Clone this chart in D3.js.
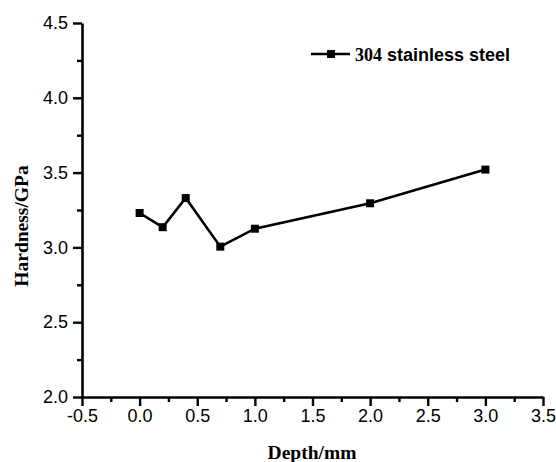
<!DOCTYPE html>
<html lang="en">
<head>
    <meta charset="UTF-8">
    <title>Hardness vs depth</title>
    <script src="https://d3js.org/d3.v7.min.js"></script>
</head>
<body style="margin:0;background:#fff">
<script>
    var depths = [0.0, 0.2, 0.4, 0.7, 1.0, 2.0, 3.0];
    var hardness = [3.23, 3.135, 3.33, 3.005, 3.125, 3.295, 3.52];
    var xTicks = [-0.5, 0.0, 0.5, 1.0, 1.5, 2.0, 2.5, 3.0, 3.5];
    var yTicks = [2.0, 2.5, 3.0, 3.5, 4.0, 4.5];
    var seriesName = "304 stainless steel";

    var margin = {top: 23, right: 13, bottom: 65, left: 82},
        width = 556 - margin.left - margin.right,
        height = 462 - margin.top - margin.bottom;

    var svg = d3.select("body").append("svg")
        .attr("width", 556)
        .attr("height", 462)
        .append("g")
        .attr("transform", "translate(" + margin.left + "," + margin.top + ")");

    var x = d3.scaleLinear().domain([-0.5, 3.5]).range([0, width]);
    var y = d3.scaleLinear().domain([2.0, 4.5]).range([height, 0]);

    var data = depths.map(function (d, i) { return {x: d, y: hardness[i]}; });
    var fmt = function (d) { return d.toFixed(1); };   // plain hyphen for -0.5

    function styleAxis(g) {
        g.select(".domain").attr("stroke-width", 2.6).attr("stroke", "#000");
        g.selectAll("line").attr("stroke-width", 2.4).attr("stroke", "#000");
        g.selectAll("text")
            .style("font-family", "Liberation Sans, Arial, sans-serif")
            .style("font-size", "18px")
            .attr("fill", "#000");
    }

    // minor ticks
    var xMinor = d3.range(-0.25, 3.5, 0.5);
    var yMinor = d3.range(2.25, 4.5, 0.5);
    svg.append("g")
        .attr("transform", "translate(0," + height + ")")
        .call(d3.axisBottom(x).tickValues(xMinor).tickSize(5).tickFormat(""))
        .call(function (g) { g.select(".domain").remove(); g.selectAll("line").attr("stroke-width", 2.4).attr("stroke", "#000"); });
    svg.append("g")
        .call(d3.axisLeft(y).tickValues(yMinor).tickSize(5).tickFormat(""))
        .call(function (g) { g.select(".domain").remove(); g.selectAll("line").attr("stroke-width", 2.4).attr("stroke", "#000"); });

    // x axis
    svg.append("g")
        .attr("transform", "translate(0," + height + ")")
        .call(d3.axisBottom(x).tickValues(xTicks).tickSize(9).tickSizeOuter(0).tickPadding(3).tickFormat(fmt))
        .call(styleAxis);

    // y axis
    svg.append("g")
        .call(d3.axisLeft(y).tickValues(yTicks).tickSize(9).tickSizeOuter(0).tickPadding(5).tickFormat(fmt))
        .call(styleAxis);

    // line
    svg.append("path")
        .datum(data)
        .attr("fill", "none")
        .attr("stroke", "#000")
        .attr("stroke-width", 2.6)
        .attr("d", d3.line().x(function (d) { return x(d.x); }).y(function (d) { return y(d.y); }));

    svg.selectAll(".pt")
        .data(data)
        .enter().append("rect")
        .attr("class", "pt")
        .attr("x", function (d) { return x(d.x) - 4; })
        .attr("y", function (d) { return y(d.y) - 4; })
        .attr("width", 8)
        .attr("height", 8)
        .attr("fill", "#000");

    // axis titles
    svg.append("text")
        .attr("x", 230)
        .attr("y", height + 62)
        .attr("text-anchor", "middle")
        .style("font-family", "Liberation Serif, Times New Roman, serif")
        .style("font-weight", "bold")
        .style("font-size", "19.5px")
        .text("Depth/mm");

    svg.append("text")
        .attr("transform", "translate(" + (-54) + "," + 203 + ") rotate(-90)")
        .attr("text-anchor", "middle")
        .style("font-family", "Liberation Serif, Times New Roman, serif")
        .style("font-weight", "bold")
        .style("font-size", "19.5px")
        .text("Hardness/GPa");

    // legend
    var lg = svg.append("g").attr("transform", "translate(" + (311 - margin.left) + "," + (54 - margin.top) + ")");
    lg.append("line").attr("x1", 0).attr("x2", 39).attr("y1", 0).attr("y2", 0)
        .attr("stroke", "#000").attr("stroke-width", 2.6);
    lg.append("rect").attr("x", 16).attr("y", -4).attr("width", 8).attr("height", 8).attr("fill", "#000");
    var lt = lg.append("text").attr("x", 44).attr("y", 6.5)
        .style("font-weight", "bold").style("font-size", "18px");
    lt.append("tspan").style("font-family", "Liberation Serif, Times New Roman, serif").text("304");
    lt.append("tspan").style("font-family", "Liberation Sans, Arial, sans-serif").text(" stainless steel");
</script>
</body>
</html>
